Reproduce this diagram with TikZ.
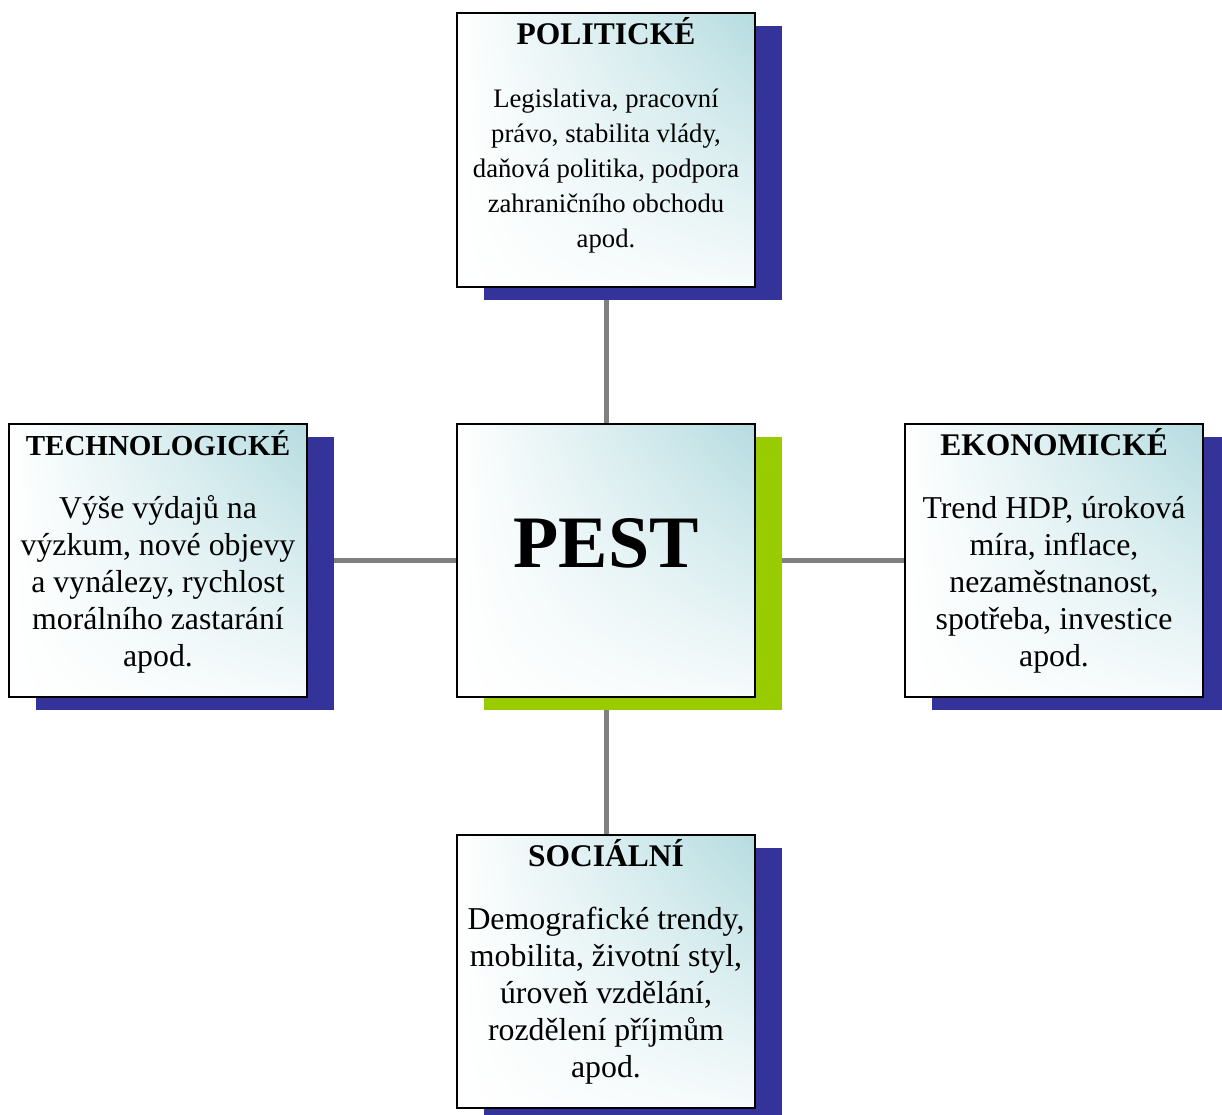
\documentclass[tikz,border=0pt]{standalone}
\usepackage{fontspec}
\setmainfont{Liberation Serif}
\usetikzlibrary{shadows,shadings,backgrounds}
\definecolor{pestblue}{HTML}{333399}
\definecolor{pestgreen}{HTML}{99CC00}
\definecolor{pestteal}{HTML}{B5DCE0}
\definecolor{linkgray}{HTML}{808080}
% title, body size, body skip, body
\newcommand{\pestitem}[4]{\parbox[c][273pt][t]{290pt}{\centering
	{\fontsize{31.5}{37}\selectfont\bfseries\rule{0pt}{31pt}#1\par}
	\vspace{\dimexpr 63pt-#3pt\relax}
	{\fontsize{#2}{#3}\selectfont #4\par}}}
\begin{document}
\begin{tikzpicture}[x=1pt, y=-1pt,
	pestbox/.style={draw=black, line width=2pt, shading=bilinear interpolation, upper right=pestteal, upper left=white,
		lower left=white, lower right=pestteal!12, minimum width=298pt, minimum height=273pt, inner sep=0pt},
	blueshadow/.style={drop shadow={fill=pestblue, opacity=1, shadow xshift=27pt, shadow yshift=-13pt}},
	greenshadow/.style={drop shadow={fill=pestgreen, opacity=1, shadow xshift=27pt, shadow yshift=-13pt}},
	link/.style={draw=linkgray, line width=5pt}]
	\useasboundingbox (0,0) rectangle (1222,1115);
	\node[pestbox, greenshadow] (pest) at (606,560.5) {\parbox[c][273pt][t]{290pt}{\centering
			\fontsize{74}{80}\selectfont\bfseries\rule{0pt}{143pt}PEST}};
	\node[pestbox, blueshadow] (pol) at (606,150) {\pestitem{POLITICKÉ}{26.7}{35}{Legislativa, pracovní\\
			právo, stabilita vlády,\\ daňová politika, podpora\\ zahraničního obchodu\\ apod.}};
	\node[pestbox, blueshadow] (tech) at (158,560.5) {\pestitem{{\fontsize{29}{37}\selectfont TECHNOLOGICKÉ}}{31.8}{37}{Výše výdajů na\\
			výzkum, nové objevy\\ a vynálezy, rychlost\\ morálního zastarání\\ apod.}};
	\node[pestbox, blueshadow] (eko) at (1054,560.5) {\pestitem{EKONOMICKÉ}{31.8}{37}{Trend HDP, úroková\\
			míra, inflace,\\ nezaměstnanost,\\ spotřeba, investice\\ apod.}};
	\node[pestbox, blueshadow] (soc) at (606,971.5) {\pestitem{SOCIÁLNÍ}{31.8}{37}{Demografické trendy,\\
			mobilita, životní styl,\\ úroveň vzdělání,\\ rozdělení příjmům\\ apod.}};
	
	\begin{scope}[on background layer]
		\draw[link] (pol) -- (pest);
		\draw[link] (tech) -- (pest);
		\draw[link] (pest) -- (eko);
		\draw[link] (pest) -- (soc);
	\end{scope}
\end{tikzpicture}
\end{document}
